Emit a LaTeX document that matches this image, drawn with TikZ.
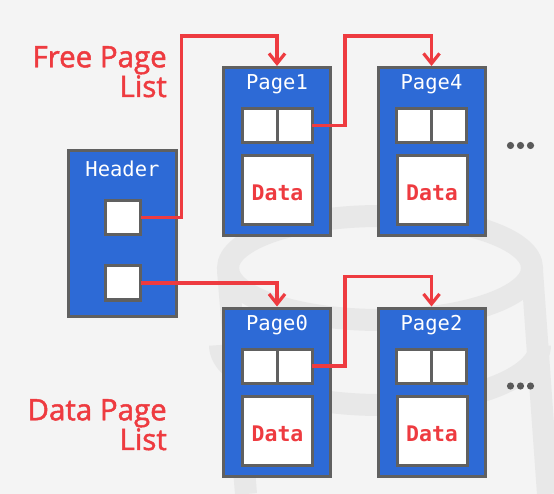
\documentclass[tikz,border=0pt]{standalone}
\usepackage{fontspec}
\setmainfont{Open Sans}
\setmonofont{DejaVu Sans Mono}
\newfontfamily\labelfont[FakeBold=1.6]{Open Sans}
\usetikzlibrary{arrows.meta, positioning, calc}
\definecolor{pageBlue}{HTML}{2D6AD6}
\definecolor{frameGray}{HTML}{606060}
\definecolor{linkRed}{HTML}{EE3B40}
\definecolor{backGray}{HTML}{F4F4F4}
\definecolor{markGray}{HTML}{E8E8E8}
\definecolor{dotGray}{HTML}{5A5A5A}

\begin{document}
\begin{tikzpicture}[x=1pt, y=-1pt,
  pagebox/.style={draw=frameGray, fill=pageBlue, line width=3pt,
    minimum width=107pt, minimum height=168pt, inner sep=0pt},
  headbox/.style={pagebox, minimum width=108pt, minimum height=166pt},
  pagetitle/.style={text=white, font=\ttfamily\fontsize{20.5}{24}\selectfont,
    inner sep=0pt, anchor=base},
  slot/.style={draw=frameGray, fill=white, line width=3pt, minimum width=35pt,
    minimum height=34pt, inner sep=0pt, outer sep=0pt},
  databox/.style={slot, minimum width=70pt, minimum height=69pt, text=linkRed,
    font=\ttfamily\bfseries\fontsize{21.5}{24}\selectfont, text height=21.6pt, text depth=0pt},
  listlabel/.style={text=linkRed, font=\labelfont\fontsize{29.5}{28.5}\selectfont, align=right,
    inner sep=0pt, anchor=north east},
  link/.style={draw=linkRed, line width=3.2pt, -{Straight Barb[length=10pt, width=16pt]}}]

  % background and faint disk watermark
  \fill[backGray] (0,0) rectangle (554,494);
  \useasboundingbox (0,0) rectangle (554,494);
  \begin{scope}[draw=markGray, line width=22pt]
    \draw (380,268) ellipse [x radius=152, y radius=52];
    \draw (228,270) -- (246,494);
    \draw (532,270) -- (548,494);
    \draw (540,345) arc [start angle=0, end angle=180, x radius=160, y radius=60];
  \end{scope}

  % header page
  \node[headbox] (hdr) at (122.5,233.5) {};
  \node[pagetitle] (hdrt) at ($(hdr.north)+(0,28)$) {Header};
  \node[slot] (hs1) at ($(hdr.center)+(0.5,-16)$) {};
  \node[slot] (hs2) at ($(hdr.center)+(0.5,49.5)$) {};

  % data pages
  \foreach \name/\num/\px/\py in {p1/1/277/151.5, p4/4/431.5/151.5, p0/0/277/392, p2/2/431.5/392} {
    \node[pagebox] (\name) at (\px,\py) {};
    \node[pagetitle] (\name-t) at ($(\name.north)+(0,24)$) {Page\num};
    \node[slot] (\name-a) at ($(\name.center)+(-17.5,-26)$) {};
    \node[slot, right=0pt of \name-a] (\name-b) {};
    \node[databox] (\name-d) at ($(\name.center)+(0.5,38.5)$) {Data};
  }

  % free list and data list
  \draw[link] (hs1.east) -- ++(41,0) |- ([yshift=30pt]p1.north) -- (p1.north);
  \draw[link] (p1-b.east) -- ++(33,0) |- ([yshift=30pt]p4.north) -- (p4.north);
  \draw[link] (hs2.east) -| (p0.north);
  \draw[link] (p0-b.east) -- ++(33,0) |- ([yshift=30pt]p2.north) -- (p2.north);

  \node[listlabel] (freelbl) at (167,46) {Free Page\\List};
  \node[listlabel] (datalbl) at (167,399) {Data Page\\List};

  \foreach \pg in {p4,p2}
    \foreach \dx in {0,10,20}
      \fill[dotGray] ($(\pg.east)+(24+\dx,-6)$) circle [radius=3.6pt];
\end{tikzpicture}
\end{document}
